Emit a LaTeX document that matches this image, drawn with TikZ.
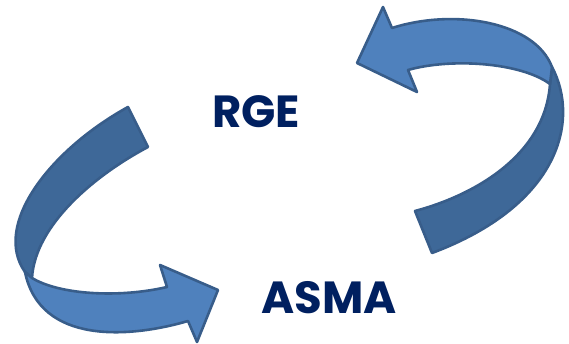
\documentclass[tikz,border=0pt]{standalone}
\usepackage{fontspec}
\setmainfont{Poppins}
\definecolor{bandlight}{HTML}{4F81BD}
\definecolor{banddark}{HTML}{3E6898}
\definecolor{bandline}{HTML}{385D8A}
\definecolor{navy}{HTML}{002060}
\begin{document}
\begin{tikzpicture}[x=1pt,y=-1pt,
    front/.style={fill=bandlight, draw=bandline, line width=2.6pt, line join=round},
    back/.style={fill=banddark, draw=bandline, line width=2.6pt, line join=round},
    word/.style={anchor=base, text=navy, font=\fontsize{45}{50}\selectfont\bfseries}]
    \useasboundingbox (0,0) rectangle (569,344);
    \draw[back] (128,107) -- (148,147)
      .. controls (95,175) and (35,225) .. (32,278)
      -- (25,272) .. controls (-8,225) and (50,150) .. (128,107) -- cycle;
    \draw[front] (25,272) -- (32,278)
      .. controls (60,295) and (120,298) .. (167,287)
      -- (160,265) -- (218,290) -- (197,342) -- (188,321)
      .. controls (130,338) and (40,345) .. (25,272) -- cycle;
    \draw[back] (552,67) .. controls (580,120) and (560,205) .. (432,253)
      -- (415,211) .. controls (475,195) and (545,155) .. (550,84) -- cycle;
    \draw[front] (550,84) -- (552,67)
      .. controls (535,22) and (455,8) .. (392,28)
      -- (383,7) -- (357,63) -- (417,92) -- (408,70)
      .. controls (450,58) and (520,62) .. (550,84) -- cycle;
    \node[word] (rge) at (256,128) {RGE};
    \node[word] (asma) at (329,313) {ASMA};
\end{tikzpicture}
\end{document}
